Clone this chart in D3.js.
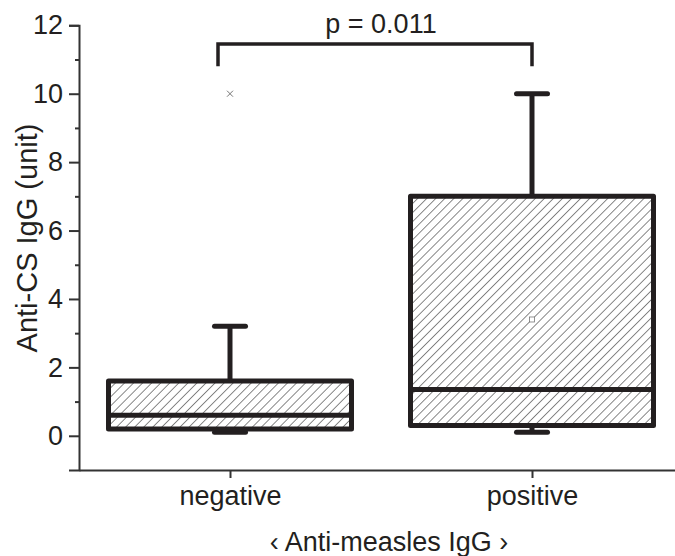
<!DOCTYPE html>
<html>
<head>
<meta charset="utf-8">
<script src="https://cdn.jsdelivr.net/npm/d3@7/dist/d3.min.js"></script>
<style>
  body { margin: 0; background: #fff; }
  text { font-family: Arial, "Liberation Sans", sans-serif; fill: #231f20; }
</style>
</head>
<body>
<div id="chart"></div>
<script>
// box plot values
const categories = ["negative", "positive"];
const q1 = [0.2, 0.3];
const median = [0.6, 1.35];
const q3 = [1.6, 7.0];
const whiskerLow = [0.1, 0.1];
const whiskerHigh = [3.2, 10.0];
const means = [null, 3.4];
const outliers = [[10], []];
const yTicks = [0, 2, 4, 6, 8, 10, 12];
const yMinorTicks = [1, 3, 5, 7, 9, 11];
const pLabel = "p = 0.011";
const bracketTop = 11.45, bracketLeg = 10.8;

const W = 675, H = 556;
const dark = "#231f20";

const svg = d3.select("#chart").append("svg")
  .attr("width", W).attr("height", H);

// hatch fill
const defs = svg.append("defs");
const pat = defs.append("pattern")
  .attr("id", "hatch")
  .attr("patternUnits", "userSpaceOnUse")
  .attr("width", 6.4).attr("height", 6.4)
  .attr("patternTransform", "rotate(45)");
pat.append("rect").attr("width", 6.4).attr("height", 6.4).attr("fill", "#fff");
pat.append("line")
  .attr("x1", 0).attr("y1", 0).attr("x2", 0).attr("y2", 6.4)
  .attr("stroke", "#3a3a3a").attr("stroke-width", 1.2);

const x = d3.scalePoint().domain(categories).range([79, 683]).padding(0.5);
const y = d3.scaleLinear().domain([-1, 12]).range([470, 25.3]);

const boxW = 243, capW = 36;

// axes
const yAxis = svg.append("g")
  .attr("transform", "translate(79,0)")
  .call(d3.axisLeft(y).tickValues(yTicks).tickSize(10).tickPadding(6));
yAxis.selectAll(".tick text").attr("font-size", 27).attr("fill", dark);

svg.append("g")
  .attr("transform", "translate(79,0)")
  .call(d3.axisLeft(y).tickValues(yMinorTicks).tickSize(4).tickFormat(""))
  .select(".domain").remove();

const xAxis = svg.append("g")
  .attr("transform", "translate(0,470)")
  .call(d3.axisBottom(x).tickSize(8).tickSizeOuter(0).tickPadding(8));
xAxis.selectAll(".tick text").attr("font-size", 27).attr("fill", dark);

svg.selectAll(".domain, .tick line").attr("stroke", "#333").attr("stroke-width", 2);

// boxes
const g = svg.append("g");
categories.forEach((c, i) => {
  const cx = x(c);
  // whiskers
  g.append("line")
    .attr("x1", cx).attr("x2", cx)
    .attr("y1", y(q3[i])).attr("y2", y(whiskerHigh[i]))
    .attr("stroke", dark).attr("stroke-width", 5);
  g.append("line")
    .attr("x1", cx).attr("x2", cx)
    .attr("y1", y(q1[i])).attr("y2", y(whiskerLow[i]))
    .attr("stroke", dark).attr("stroke-width", 5);
  [whiskerHigh[i], whiskerLow[i]].forEach(v => {
    g.append("line")
      .attr("x1", cx - capW / 2 + 2.5).attr("x2", cx + capW / 2 - 2.5)
      .attr("y1", y(v)).attr("y2", y(v))
      .attr("stroke", dark).attr("stroke-width", 5)
      .attr("stroke-linecap", "round");
  });
  g.append("rect")
    .attr("x", cx - boxW / 2).attr("width", boxW)
    .attr("y", y(q3[i])).attr("height", y(q1[i]) - y(q3[i]))
    .attr("fill", "url(#hatch)")
    .attr("stroke", dark).attr("stroke-width", 5)
    .attr("stroke-linejoin", "round");
  g.append("line")
    .attr("x1", cx - boxW / 2).attr("x2", cx + boxW / 2)
    .attr("y1", y(median[i])).attr("y2", y(median[i]))
    .attr("stroke", dark).attr("stroke-width", 5);
  if (means[i] != null) {
    g.append("rect")
      .attr("x", cx - 2.5).attr("y", y(means[i]) - 2.5)
      .attr("width", 5).attr("height", 5)
      .attr("fill", "#fff").attr("stroke", "#777").attr("stroke-width", 0.8);
  }
  outliers[i].forEach(v => {
    g.append("path")
      .attr("d", `M${cx - 3},${y(v) - 3}L${cx + 3},${y(v) + 3}M${cx - 3},${y(v) + 3}L${cx + 3},${y(v) - 3}`)
      .attr("stroke", "#777").attr("stroke-width", 1);
  });
});

// significance bracket
const bx1 = x(categories[0]) - 12, bx2 = x(categories[1]);
svg.append("path")
  .attr("d", `M${bx1},${y(bracketLeg)}V${y(bracketTop)}H${bx2}V${y(bracketLeg)}`)
  .attr("fill", "none").attr("stroke", dark).attr("stroke-width", 3.5);
svg.append("text")
  .attr("x", (bx1 + bx2) / 2 + 6).attr("y", 33)
  .attr("text-anchor", "middle").attr("font-size", 27)
  .text(pLabel);

// axis titles
svg.append("text")
  .attr("transform", "translate(37,238) rotate(-90)")
  .attr("text-anchor", "middle").attr("font-size", 29)
  .text("Anti-CS IgG (unit)");
svg.append("text")
  .attr("x", 389).attr("y", 551)
  .attr("text-anchor", "middle").attr("font-size", 27)
  .text("‹ Anti-measles IgG ›");
</script>
</body>
</html>
